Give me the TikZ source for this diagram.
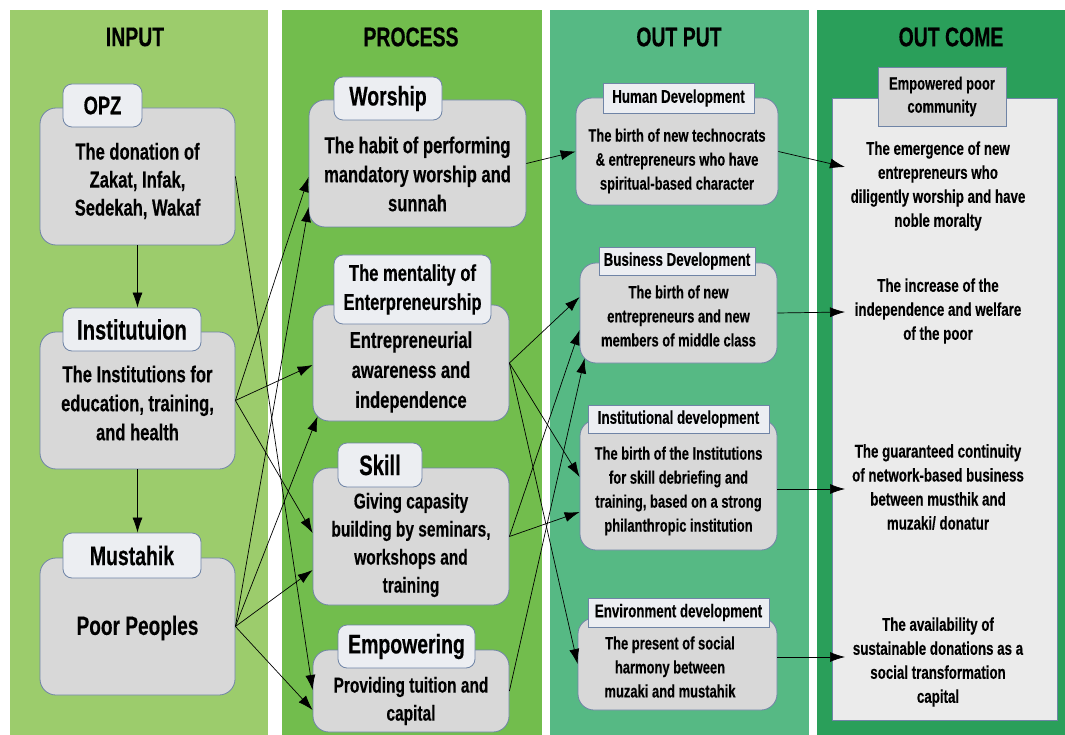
\documentclass[tikz,border=0pt]{standalone}
\usepackage{fontspec}
\setmainfont{Liberation Sans}[FakeStretch=0.72, BoldFeatures={FakeBold=0.3}]
\usetikzlibrary{arrows.meta,calc}
\definecolor{colA}{HTML}{9CCC6C}
\definecolor{colB}{HTML}{72BD4D}
\definecolor{colC}{HTML}{56B984}
\definecolor{colD}{HTML}{2A9F5A}
\definecolor{boxfill}{HTML}{D8D8D8}
\definecolor{boxline}{HTML}{6F84A6}
\definecolor{tabfill}{HTML}{ECEEF2}
\definecolor{outfill}{HTML}{EBEBEB}
\definecolor{outtab}{HTML}{D6D6D6}
\newcommand\myfs[2]{\fontsize{#1}{#2}\selectfont}
\tikzset{
  head/.style={font=\bfseries\myfs{27}{30}, inner sep=0pt},
  box/.style={draw=boxline, fill=boxfill, rounded corners=16pt, line width=0.8pt, inner sep=0pt},
  tabbox/.style={draw=boxline, fill=tabfill, rounded corners=9pt, line width=0.8pt, inner sep=0pt, align=center},
  otab/.style={draw=boxline, fill=tabfill, line width=0.8pt, inner sep=0pt, align=center, font=\bfseries\myfs{18.5}{20}},
  txt/.style={align=center, inner sep=0pt},
  otxt/.style={align=center, inner sep=0pt, font=\bfseries\myfs{18}{24}},
  ctxt/.style={align=center, inner sep=0pt, font=\bfseries\myfs{18.5}{24}},
  arr/.style={-{Latex[length=15pt,width=10pt]}, line width=0.7pt, black},
}
\begin{document}
\begin{tikzpicture}[x=1pt,y=-1pt]
\useasboundingbox (0,0) rectangle (1065,735);
\fill[white] (0,0) rectangle (1065,735);
% columns
\fill[colA] (10,10) rectangle (268,735);
\fill[colB] (282,10) rectangle (542,735);
\fill[colC] (550,10) rectangle (809,735);
\fill[colD] (817,10) rectangle (1065,735);
\node[head] (hA) at (135,37) {INPUT};
\node[head] (hB) at (411,37) {PROCESS};
\node[head] (hC) at (679,37) {OUT PUT};
\node[head] (hD) at (951,37) {OUT COME};

% INPUT
\node[box, minimum width=195pt, minimum height=137pt] (opz) at (137.5,176.5) {};
\node[tabbox, minimum width=79pt, minimum height=43pt, font=\bfseries\myfs{25.5}{28}] (opzt) at (102.5,105.5) {OPZ};
\node[txt, font=\bfseries\myfs{23}{28}] (opzx) at (137.5,181) {The donation of\\Zakat, Infak,\\Sedekah, Wakaf};

\node[box, minimum width=195pt, minimum height=137pt] (inst) at (137.5,400.5) {};
\node[tabbox, minimum width=138pt, minimum height=43pt, font=\bfseries\myfs{28}{28}] (instt) at (132,329.5) {Institutuion};
\node[txt, font=\bfseries\myfs{23}{29}] (instx) at (137.5,403) {The Institutions for\\education, training,\\and health};

\node[box, minimum width=195pt, minimum height=137pt] (must) at (137.5,626.5) {};
\node[tabbox, minimum width=138pt, minimum height=45pt, font=\bfseries\myfs{27}{28}] (mustt) at (132,555.5) {Mustahik};
\node[txt, font=\bfseries\myfs{26.5}{30}] (mustx) at (137.5,628) {Poor Peoples};

% PROCESS
\node[box, minimum width=217pt, minimum height=127pt] (wor) at (417.5,163.5) {};
\node[tabbox, minimum width=108pt, minimum height=43pt, font=\bfseries\myfs{27}{28}] (wort) at (388,98.5) {Worship};
\node[txt, font=\bfseries\myfs{23}{29}] (worx) at (417.5,174) {The habit of performing\\mandatory worship and\\sunnah};

\node[box, minimum width=196pt, minimum height=116pt] (ment) at (411,363) {};
\node[tabbox, minimum width=157pt, minimum height=69pt, font=\bfseries\myfs{23}{29}] (mentt) at (412.5,289.5) {The mentality of\\Enterpreneurship};
\node[txt, font=\bfseries\myfs{23}{30}] (mentx) at (411,372) {Entrepreneurial\\awareness and\\independence};

\node[box, minimum width=196pt, minimum height=137pt] (skill) at (411,536.5) {};
\node[tabbox, minimum width=84pt, minimum height=44pt, font=\bfseries\myfs{28}{28}] (skillt) at (380,465) {Skill};
\node[txt, font=\bfseries\myfs{21.5}{28}] (skillx) at (411,545) {Giving capasity\\building by seminars,\\workshops and\\training};

\node[box, minimum width=196pt, minimum height=82pt] (emp) at (411,691) {};
\node[tabbox, minimum width=137pt, minimum height=43pt, font=\bfseries\myfs{27}{28}] (empt) at (406.5,646.5) {Empowering};
\node[txt, font=\bfseries\myfs{21.5}{28}] (empx) at (411,701) {Providing tuition and\\capital};

% OUTPUT
\node[box, minimum width=202pt, minimum height=107pt] (hum) at (677,151.5) {};
\node[otab, minimum width=151pt, minimum height=30pt] (humt) at (678.5,98) {Human Development};
\node[otxt] (humx) at (677,161) {The birth of new technocrats\\\& entrepreneurs who have\\spiritual-based character};

\node[box, minimum width=197pt, minimum height=100pt] (bus) at (678.5,313) {};
\node[otab, minimum width=156pt, minimum height=28pt] (bust) at (677,261) {Business Development};
\node[otxt] (busx) at (678.5,316) {The birth of new\\entrepreneurs and new\\members of middle class};

\node[box, minimum width=197pt, minimum height=130pt] (ins) at (678.5,485) {};
\node[otab, minimum width=181pt, minimum height=28pt] (inst2) at (678.5,419) {Institutional development};
\node[otxt] (insx) at (678.5,491) {The birth of the Institutions\\for skill debriefing and\\training, based on a strong\\philanthropic institution};

\node[box, minimum width=199pt, minimum height=92pt] (env) at (677.5,664) {};
\node[otab, minimum width=181pt, minimum height=29pt] (envt) at (678.5,612.5) {Environment development};
\node[otxt] (envx) at (670,667) {The present of social\\harmony between\\muzaki and mustahik};

% OUTCOME
\node[draw=boxline, fill=outfill, line width=0.8pt, minimum width=225pt, minimum height=622pt, inner sep=0pt] (out) at (944.5,409) {};
\node[draw=boxline, fill=outtab, line width=0.8pt, minimum width=128pt, minimum height=59pt, inner sep=0pt, align=center, font=\bfseries\myfs{18}{23}] (outt) at (942,96.5) {Empowered poor\\community};
\node[ctxt] (o1) at (938,186) {The emergence of new\\entrepreneurs who\\diligently worship and have\\noble moralty};
\node[ctxt] (o2) at (938,311) {The increase of the\\independence and welfare\\of the poor};
\node[ctxt] (o3) at (938,487) {The guaranteed continuity\\of network-based business\\between musthik and\\muzaki/ donatur};
\node[ctxt] (o4) at (938,662) {The availability of\\sustainable donations as a\\social transformation\\capital};
\coordinate (c1) at (845,167);
\coordinate (c2) at (845,312);
\coordinate (c3) at (845,489);
\coordinate (c4) at (845,657);

% arrows input
\draw[arr] (opz.south) -- (instt.north -| opz.south);
\draw[arr] (inst.south) -- (mustt.north -| inst.south);
\draw[arr] (opz.east) -- (emp.west |- 0,690);
\draw[arr] (inst.east) -- (wor.west |- 0,177);
\draw[arr] (must.east) -- (wor.west |- 0,207);
\draw[arr] (inst.east) -- (ment.west |- 0,365);
\draw[arr] (must.east) -- ($(ment.south west)+(5,-5)$);
\draw[arr] (inst.east) -- (skill.west |- 0,533);
\draw[arr] (must.east) -- (skill.west |- 0,570);
\draw[arr] (must.east) -- (emp.west |- 0,710);
% arrows process
\draw[arr] (wor.east) -- (hum.west);
\draw[arr] (ment.east) -- (bus.west |- 0,297);
\draw[arr] (ment.east) -- (ins.west |- 0,477);
\draw[arr] (ment.east) -- (env.west);
\draw[arr] (skill.east) -- (bus.west |- 0,330);
\draw[arr] (skill.east) -- (ins.west |- 0,512);
\draw[arr] (emp.east) -- ($(bus.south west)+(5,-5)$);
% arrows output
\draw[arr] (hum.east) -- (c1);
\draw[arr] (bus.east) -- (c2);
\draw[arr] (ins.east |- c3) -- (c3);
\draw[arr] (env.east |- c4) -- (c4);
\end{tikzpicture}
\end{document}
